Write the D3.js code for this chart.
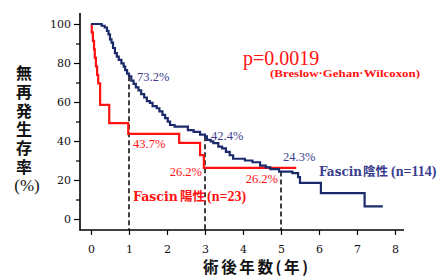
<!DOCTYPE html>
<html><head><meta charset="utf-8">
<script src="https://cdn.jsdelivr.net/npm/d3@7"></script>
<style>
html,body{margin:0;padding:0;background:#fff;}
svg{display:block;}
</style></head>
<body>
<svg id="chart" width="441" height="277"></svg>
<script>
// ---- data ----
const xTicks = [0,1,2,3,4,5,6,7,8];
const yTicks = [0,20,40,60,80,100];
const yMinorTicks = [10,30,50,70,90];

// Fascin negative (n=114): step times (years) and survival (%)
const negTimes = [0,0.28,0.36,0.42,0.46,0.50,0.54,0.58,0.63,0.68,0.73,0.80,0.86,0.90,0.95,1.00,1.06,1.12,1.18,1.25,1.32,1.40,1.47,1.55,1.62,1.73,1.80,1.88,1.95,2.02,2.08,2.20,2.55,2.70,2.87,3.00,3.05,3.15,3.22,3.35,3.45,3.55,3.65,3.74,4.05,4.25,4.45,4.60,4.72,4.95,5.30,5.45,5.50,6.05,7.20,7.68];
const negSurv  = [100,99.1,98.2,96.5,94.7,92.1,90.4,87.7,85.1,83.3,81.6,79.8,78.1,76.3,74.6,73.2,71.0,69.3,67.5,66.0,64.0,62.3,60.5,59.6,57.9,56.8,55.2,53.4,51.7,49.9,48.2,47.4,45.6,44.7,43.3,42.4,40.6,39.8,38.9,37.1,36.2,34.4,32.7,30.9,30.0,29.1,27.4,26.5,25.6,24.3,23.5,21.5,18.5,13.3,6.5,6.5];

// Fascin positive (n=23)
const posTimes = [0,0.02,0.05,0.08,0.10,0.13,0.16,0.19,0.24,0.48,0.98,2.32,2.87,2.97,5.40];
const posSurv  = [100,95.7,91.3,87.0,82.6,78.3,73.9,69.6,58.5,49.2,43.7,39.0,32.8,26.2,26.2];

// landmark markers
const markTimes = [1,3,5];
const markSurv  = [73.2,42.4,24.3];
const negLabels = ["73.2%","42.4%","24.3%"];
const posLabels = ["43.7%","26.2%","26.2%"];

const pValue = "p=0.0019";
const testName = "(Breslow·Gehan·Wilcoxon)";
const yTitle = "無再発生存率";
const yTitleUnit = "(%)";
const xTitle = "術後年数(年)";

// ---- drawing ----
const NAVY = "#1b2a6b", NAVY_TXT = "#3a3d8e", RED = "#ff1111";
const SERIF = "'Liberation Serif','Times New Roman',serif";
const WSERIF = "'DejaVu Serif',serif";
const TICKF = "'DejaVu Serif',serif";
const CJK = "'Noto Sans CJK JP','Noto Sans CJK SC',sans-serif";

const svg = d3.select("#chart");
const x = d3.scaleLinear().domain([0,8]).range([91,395]);
const y = d3.scaleLinear().domain([0,100]).range([219,24]);
const axisX0 = 80, axisY0 = 230;

// axis frame lines
svg.append("line").attr("x1",axisX0).attr("x2",axisX0).attr("y1",13).attr("y2",axisY0+0.5)
  .attr("stroke","#000").attr("stroke-width",1.6);
svg.append("line").attr("x1",axisX0-0.5).attr("x2",404).attr("y1",axisY0).attr("y2",axisY0)
  .attr("stroke","#000").attr("stroke-width",1.6);

// y axis
const gy = svg.append("g").attr("transform",`translate(${axisX0},0)`)
  .call(d3.axisLeft(y).tickValues(yTicks).tickSize(6).tickPadding(3).tickFormat(d3.format("d")));
gy.select(".domain").remove();
gy.selectAll("line").attr("stroke","#000").attr("stroke-width",1.2);
gy.selectAll("text").attr("font-family",TICKF).attr("font-size",11).attr("fill","#111");
const gym = svg.append("g").attr("transform",`translate(${axisX0},0)`)
  .call(d3.axisLeft(y).tickValues(yMinorTicks).tickSize(4).tickFormat(""));
gym.select(".domain").remove();
gym.selectAll("line").attr("stroke","#000").attr("stroke-width",1.2);

// x axis
const gx = svg.append("g").attr("transform",`translate(0,${axisY0})`)
  .call(d3.axisBottom(x).tickValues(xTicks).tickSize(5).tickPadding(10).tickFormat(d3.format("d")));
gx.select(".domain").remove();
gx.selectAll("line").attr("stroke","#000").attr("stroke-width",1.2);
gx.selectAll("text").attr("font-family",TICKF).attr("font-size",11).attr("fill","#111");

// dashed landmark lines
svg.append("g").selectAll("line").data(markTimes).join("line")
  .attr("x1",d=>x(d)).attr("x2",d=>x(d))
  .attr("y1",(d,i)=>y(markSurv[i])).attr("y2",axisY0)
  .attr("stroke","#000").attr("stroke-width",1.5).attr("stroke-dasharray","5,3");

// curves
const line = d3.line().x(d=>x(d[0])).y(d=>y(d[1])).curve(d3.curveStepAfter);
const posData = posTimes.map((t,i)=>[t,posSurv[i]]);
const negData = negTimes.map((t,i)=>[t,negSurv[i]]);
svg.append("path").attr("d",line(posData)).attr("fill","none").attr("stroke",RED).attr("stroke-width",2.2);
svg.append("path").attr("d",line(negData)).attr("fill","none").attr("stroke",NAVY).attr("stroke-width",2.2);

// percent labels
const negOff = [[8,4.5],[6,4],[2,-11]];
svg.append("g").selectAll("text").data(negLabels).join("text")
  .attr("x",(d,i)=>x(markTimes[i])+negOff[i][0])
  .attr("y",(d,i)=>y(markSurv[i])+negOff[i][1])
  .attr("font-family",SERIF).attr("font-size",12.5).attr("fill",NAVY_TXT).text(d=>d);

const posLab = [
  {t:1, v:43.7, dx:4, dy:14, anchor:"start"},
  {t:3, v:26.2, dx:-3, dy:8, anchor:"end"},
  {t:5, v:26.2, dx:-3, dy:15, anchor:"end"}
];
svg.append("g").selectAll("text").data(posLabels).join("text")
  .attr("x",(d,i)=>x(posLab[i].t)+posLab[i].dx)
  .attr("y",(d,i)=>y(posLab[i].v)+posLab[i].dy)
  .attr("text-anchor",(d,i)=>posLab[i].anchor)
  .attr("font-family",SERIF).attr("font-size",12.5).attr("fill",RED).text(d=>d);

// series labels
const negLab = svg.append("text").attr("y",176).attr("fill",NAVY_TXT).attr("font-weight","bold");
negLab.append("tspan").attr("x",319).attr("font-family",WSERIF).attr("font-size",12).text("Fascin");
negLab.append("tspan").attr("x",363).attr("font-family",CJK).attr("font-size",12.5).text("陰性");
negLab.append("tspan").attr("x",391).attr("font-family",SERIF).attr("font-size",14).text("(n=114)");

const posLabT = svg.append("text").attr("y",201).attr("fill",RED).attr("font-weight","bold");
posLabT.append("tspan").attr("x",133).attr("font-family",WSERIF).attr("font-size",12.5).text("Fascin");
posLabT.append("tspan").attr("x",180).attr("font-family",CJK).attr("font-size",12.5).text("陽性");
posLabT.append("tspan").attr("x",207).attr("font-family",SERIF).attr("font-size",14).text("(n=23)");

// p-value
svg.append("text").attr("x",243).attr("y",65).attr("font-family",SERIF).attr("font-size",20)
  .attr("fill",RED).text(pValue);
svg.append("text").attr("x",270).attr("y",77).attr("font-family",SERIF).attr("font-size",11)
  .attr("font-weight","bold").attr("fill",RED).attr("textLength",150).attr("lengthAdjust","spacingAndGlyphs").text(testName);

// y title (vertical writing)
svg.append("text").attr("x",24).attr("y",65)
  .style("writing-mode","vertical-rl").style("text-orientation","upright")
  .attr("font-family",CJK).attr("font-weight","bold").attr("font-size",16)
  .attr("letter-spacing",2.8).attr("fill","#111").text(yTitle);
svg.append("text").attr("x",27).attr("y",191).attr("text-anchor","middle")
  .attr("font-family",SERIF).attr("font-size",17).attr("fill","#111").text(yTitleUnit);

// x title
svg.append("text").attr("x",203).attr("y",272.5).attr("font-family",CJK).attr("font-weight","bold")
  .attr("font-size",15.5).attr("fill","#111").attr("textLength",105).attr("lengthAdjust","spacing").text(xTitle);
</script>
</body></html>
